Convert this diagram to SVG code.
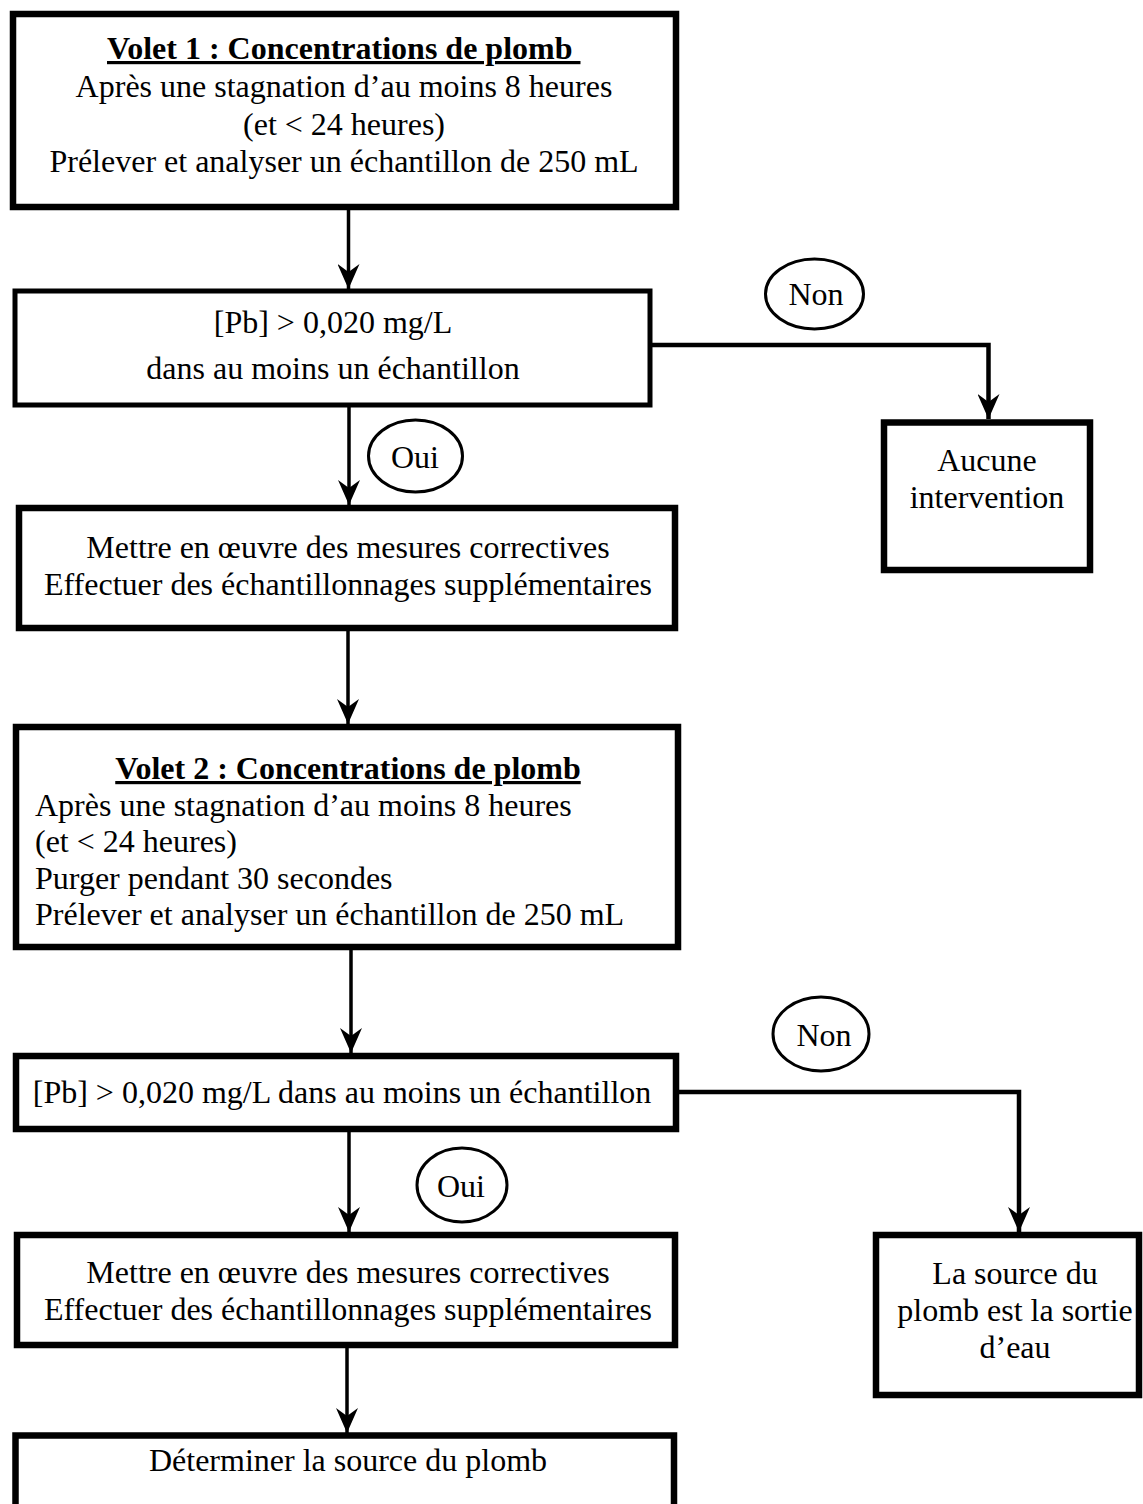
<svg xmlns="http://www.w3.org/2000/svg" width="1143" height="1504" viewBox="0 0 1143 1504">
<style>
text{font-family:"Liberation Serif","Times New Roman",serif;font-size:32px;fill:#000}
.c{text-anchor:middle}
.t{font-weight:bold;text-decoration:underline}
.box{fill:#fff;stroke:#000;stroke-width:6.5}
.thin{fill:#fff;stroke:#000;stroke-width:5}
.oval{fill:#fff;stroke:#000;stroke-width:3}
.ln{fill:none;stroke:#000;stroke-width:3.5}
.br{fill:none;stroke:#000;stroke-width:4.5;stroke-linejoin:miter}
</style>
<defs>
<marker id="ah" viewBox="0 0 25 22" refX="25" refY="11" markerWidth="25" markerHeight="22" markerUnits="userSpaceOnUse" orient="auto">
<path d="M0,0 L25,11 L0,22 L8,11 Z" fill="#000"/>
</marker>
</defs>
<rect width="1143" height="1504" fill="#fff"/>
<g id="connectors">
<line class="ln" x1="348.5" y1="210" x2="348.5" y2="289" marker-end="url(#ah)"/>
<line class="ln" x1="349" y1="407" x2="349" y2="505" marker-end="url(#ah)"/>
<line class="ln" x1="348" y1="631" x2="348" y2="724" marker-end="url(#ah)"/>
<line class="ln" x1="351" y1="950" x2="351" y2="1053" marker-end="url(#ah)"/>
<line class="ln" x1="349" y1="1132" x2="349" y2="1232" marker-end="url(#ah)"/>
<line class="ln" x1="347" y1="1348" x2="347" y2="1433" marker-end="url(#ah)"/>
<path class="br" d="M652,345 H988.5 V419" marker-end="url(#ah)"/>
<path class="br" d="M679,1092 H1019 V1232" marker-end="url(#ah)"/>
</g>
<g id="volet1">
<rect class="box" x="13" y="14" width="663" height="193"/>
<text class="t" x="107" y="59" xml:space="preserve">Volet 1 : Concentrations de plomb </text>
<text class="c" x="344" y="97">Après une stagnation d’au moins 8 heures</text>
<text class="c" x="344" y="135">(et &lt; 24 heures)</text>
<text class="c" x="344" y="172">Prélever et analyser un échantillon de 250 mL</text>
</g>
<g id="decision1">
<rect class="thin" x="15" y="291" width="635" height="114"/>
<text class="c" x="333" y="333">[Pb] &gt; 0,020 mg/L</text>
<text class="c" x="333" y="379">dans au moins un échantillon</text>
</g>
<g id="non1">
<ellipse class="oval" cx="814.5" cy="294" rx="49" ry="35"/>
<text class="c" x="816" y="305">Non</text>
</g>
<g id="aucune">
<rect class="box" x="884" y="422.5" width="206" height="147.5"/>
<text class="c" x="987" y="471">Aucune</text>
<text class="c" x="987" y="508">intervention</text>
</g>
<g id="oui1">
<ellipse class="oval" cx="415.5" cy="456" rx="47" ry="36"/>
<text class="c" x="415" y="468">Oui</text>
</g>
<g id="mesures1">
<rect class="box" x="19" y="508" width="656" height="120"/>
<text class="c" x="348" y="558">Mettre en œuvre des mesures correctives</text>
<text class="c" x="348" y="595">Effectuer des échantillonnages supplémentaires</text>
</g>
<g id="volet2">
<rect class="box" x="16" y="727" width="662" height="220"/>
<text class="t c" x="348" y="779">Volet 2 : Concentrations de plomb</text>
<text x="35" y="816">Après une stagnation d’au moins 8 heures</text>
<text x="35" y="852">(et &lt; 24 heures)</text>
<text x="35" y="889">Purger pendant 30 secondes</text>
<text x="35" y="925">Prélever et analyser un échantillon de 250 mL</text>
</g>
<g id="decision2">
<rect class="box" x="16" y="1056" width="660" height="73"/>
<text class="c" x="342" y="1103">[Pb] &gt; 0,020 mg/L dans au moins un échantillon</text>
</g>
<g id="non2">
<ellipse class="oval" cx="821" cy="1034" rx="48" ry="37"/>
<text class="c" x="824" y="1046">Non</text>
</g>
<g id="oui2">
<ellipse class="oval" cx="462" cy="1185" rx="45" ry="37"/>
<text class="c" x="461" y="1197">Oui</text>
</g>
<g id="mesures2">
<rect class="box" x="17" y="1235" width="658" height="110"/>
<text class="c" x="348" y="1283">Mettre en œuvre des mesures correctives</text>
<text class="c" x="348" y="1320">Effectuer des échantillonnages supplémentaires</text>
</g>
<g id="sortie">
<rect class="box" x="876" y="1235" width="263" height="160"/>
<text class="c" x="1015" y="1284">La source du</text>
<text class="c" x="1015" y="1321">plomb est la sortie</text>
<text class="c" x="1015" y="1358">d’eau</text>
</g>
<g id="determiner">
<rect class="box" x="15.5" y="1435.5" width="658.5" height="80"/>
<text class="c" x="348" y="1471">Déterminer la source du plomb</text>
</g>
</svg>
